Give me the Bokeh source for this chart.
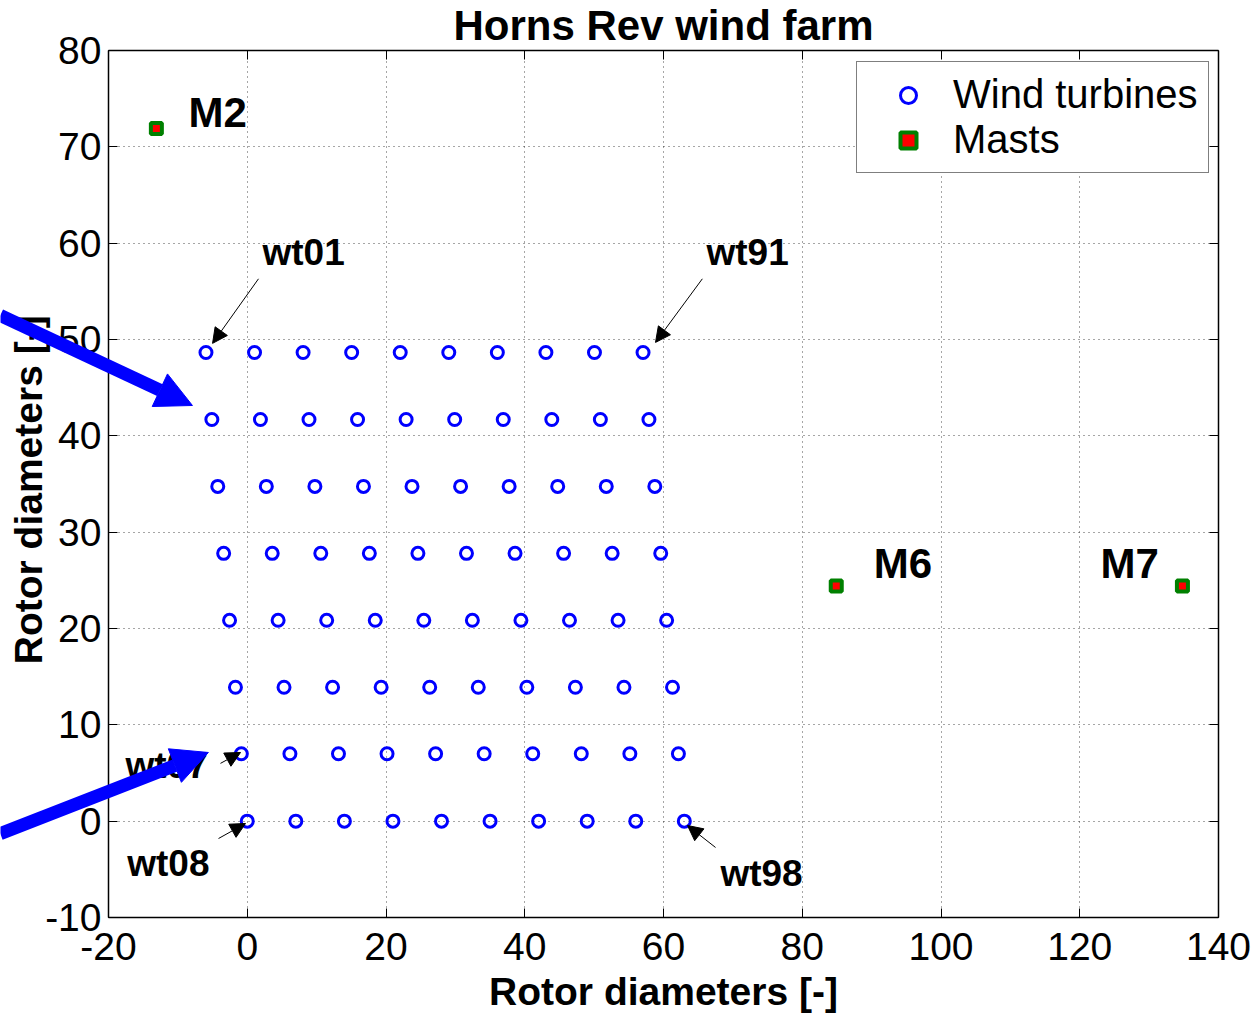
import math
from bokeh.plotting import figure
from bokeh.models import (Range1d, LinearAxis, FixedTicker, Label, Arrow, NormalHead,
                          Legend, LegendItem, ColumnDataSource, Grid)
from bokeh.embed import file_html
from bokeh.resources import INLINE

# ---------------- data ----------------
row_y = [0.0, 7.0, 13.9, 20.85, 27.8, 34.75, 41.7, 48.65]
row_x = [
    [0.0, 7.0, 14.0, 21.0, 28.0, 35.0, 42.0, 49.0, 56.0, 63.0],
    [-0.85, 6.15, 13.15, 20.15, 27.15, 34.15, 41.15, 48.15, 55.15, 62.15],
    [-1.7, 5.3, 12.3, 19.3, 26.3, 33.3, 40.3, 47.3, 54.3, 61.3],
    [-2.55, 4.45, 11.45, 18.45, 25.45, 32.45, 39.45, 46.45, 53.45, 60.45],
    [-3.4, 3.6, 10.6, 17.6, 24.6, 31.6, 38.6, 45.6, 52.6, 59.6],
    [-4.25, 2.75, 9.75, 16.75, 23.75, 30.75, 37.75, 44.75, 51.75, 58.75],
    [-5.1, 1.9, 8.9, 15.9, 22.9, 29.9, 36.9, 43.9, 50.9, 57.9],
    [-5.95, 1.05, 8.05, 15.05, 22.05, 29.05, 36.05, 43.05, 50.05, 57.05],
]
mast_names = ["M2", "M6", "M7"]
mast_x = [-13.1, 84.9, 134.8]
mast_y = [71.9, 24.4, 24.4]

x_ticks = [-20, 0, 20, 40, 60, 80, 100, 120, 140]
y_ticks = [-10, 0, 10, 20, 30, 40, 50, 60, 70, 80]

# turbine annotations: label, text pos, arrow start, arrow end
ann_names = ["wt01", "wt91", "wt07", "wt08", "wt98"]
ann_text_x = [2.2, 66.2, -17.55, -17.3, 68.2]
ann_text_y = [59.0, 59.0, 5.8, -4.4, -5.4]
ann_start_x = [1.62, 65.6, -3.86, -4.14, 67.5]
ann_start_y = [56.3, 56.3, 6.0, -1.8, -2.73]
ann_end_x = [-5.0, 58.85, -0.97, -0.25, 63.46]
ann_end_y = [49.6, 49.7, 7.13, -0.24, -0.45]

mast_text_x = [-8.47, 90.3, 123.0]
mast_text_y = [73.6, 26.7, 26.7]

# big blue highlight arrows (start -> tip)
big_start_x = [-35.6, -35.6]
big_start_y = [52.5, -1.3]
big_end_x = [-7.9, -5.6]
big_end_y = [43.15, 7.13]

title_text = "Horns Rev wind farm"
x_label = "Rotor diameters [-]"
y_label = "Rotor diameters [-]"

tx = [x for row in row_x for x in row]
ty = [y for y, row in zip(row_y, row_x) for _ in row]

FONT = "Liberation Sans"
XMIN, XMAX, YMIN, YMAX = -20, 140, -10, 80
W, H = 1259, 1015
BOX_L, BOX_R, BOX_T, BOX_B = 108, 1218, 50, 917     # axes box in page pixels
kx = (BOX_R - BOX_L) / (XMAX - XMIN)
ky = (BOX_B - BOX_T) / (YMAX - YMIN)
# the frame covers the whole page so that annotations may extend past the axes box
x_lo, x_hi = XMIN - BOX_L / kx, XMAX + (W - BOX_R) / kx
y_lo, y_hi = YMIN - (H - BOX_B) / ky, YMAX + BOX_T / ky

p = figure(frame_width=W, frame_height=H,
           x_range=Range1d(x_lo, x_hi), y_range=Range1d(y_lo, y_hi),
           output_backend="svg", toolbar_location=None,
           min_border=0, min_border_left=0, min_border_right=0,
           min_border_top=0, min_border_bottom=0)
p.background_fill_color = "white"
p.border_fill_color = "white"
p.outline_line_color = None


def style_axis(ax, labels=True):
    ax.major_label_text_font = FONT
    ax.major_label_text_font_size = "39px" if labels else "0px"
    ax.major_label_text_color = "black"
    ax.major_tick_in = 9
    ax.major_tick_out = 0
    ax.minor_tick_line_color = None
    ax.axis_line_color = "black"
    ax.axis_line_width = 1.5
    ax.major_tick_line_color = "black"


xa, ya = p.xaxis[0], p.yaxis[0]
style_axis(xa)
style_axis(ya)
xa.ticker = FixedTicker(ticks=x_ticks)
ya.ticker = FixedTicker(ticks=y_ticks)
xa.fixed_location = YMIN
ya.fixed_location = XMIN
xa.bounds = (XMIN, XMAX)
ya.bounds = (YMIN, YMAX)
xa.major_label_overrides = {t: str(t) for t in x_ticks}
ya.major_label_overrides = {t: str(t) for t in y_ticks}
xa.major_label_standoff = 15
ya.major_label_standoff = 7

top = LinearAxis(ticker=FixedTicker(ticks=x_ticks), fixed_location=YMAX, bounds=(XMIN, XMAX))
right = LinearAxis(ticker=FixedTicker(ticks=y_ticks), fixed_location=XMAX, bounds=(YMIN, YMAX))
style_axis(top, labels=False)
style_axis(right, labels=False)
p.add_layout(top, "above")
p.add_layout(right, "right")

# dotted grid limited to the axes box
has_cross = "cross_bounds" in Grid.properties()
if has_cross:
    p.xgrid.ticker = FixedTicker(ticks=x_ticks)
    p.ygrid.ticker = FixedTicker(ticks=y_ticks)
    p.xgrid.bounds = (XMIN, XMAX)
    p.ygrid.bounds = (YMIN, YMAX)
    p.xgrid.cross_bounds = (YMIN, YMAX)
    p.ygrid.cross_bounds = (XMIN, XMAX)
    for g in [p.xgrid[0], p.ygrid[0]]:
        g.grid_line_color = "black"
        g.grid_line_alpha = 0.7
        g.grid_line_dash = "1 4"
        g.grid_line_width = 1
else:
    p.xgrid.visible = False
    p.ygrid.visible = False
    p.segment(x0=x_ticks, y0=[YMIN] * len(x_ticks), x1=x_ticks, y1=[YMAX] * len(x_ticks),
              line_color="black", line_alpha=0.7, line_dash="1 4", line_width=1)
    p.segment(x0=[XMIN] * len(y_ticks), y0=y_ticks, x1=[XMAX] * len(y_ticks), y1=y_ticks,
              line_color="black", line_alpha=0.7, line_dash="1 4", line_width=1)

# title and axis titles
p.add_layout(Label(x=(XMIN + XMAX) / 2, y=YMAX + (BOX_T - 25) / ky, text=title_text,
                   text_font=FONT, text_font_size="42px", text_font_style="bold",
                   text_align="center", text_baseline="middle", text_color="black"))
p.add_layout(Label(x=(XMIN + XMAX) / 2, y=YMIN - (991 - BOX_B) / ky, text=x_label,
                   text_font=FONT, text_font_size="39px", text_font_style="bold",
                   text_align="center", text_baseline="middle", text_color="black"))
p.add_layout(Label(x=XMIN - (BOX_L - 28) / kx, y=(YMIN + YMAX) / 2 - 0.6, text=y_label,
                   angle=math.pi / 2,
                   text_font=FONT, text_font_size="39px", text_font_style="bold",
                   text_align="center", text_baseline="middle", text_color="black"))

tsrc = ColumnDataSource(dict(x=tx, y=ty))
msrc = ColumnDataSource(dict(x=mast_x, y=mast_y))
r_wt = p.scatter("x", "y", source=tsrc, marker="circle", size=12,
                 fill_color=None, line_color="blue", line_width=3)
r_m = p.scatter("x", "y", source=msrc, marker="square", size=11,
                fill_color="red", line_color="green", line_width=4)

# annotations
for name, x, y in zip(ann_names, ann_text_x, ann_text_y):
    p.add_layout(Label(x=x, y=y, text=name, text_font=FONT, text_font_size="37px",
                       text_font_style="bold", text_baseline="middle", text_align="left",
                       text_color="black"))
for name, x, y in zip(mast_names, mast_text_x, mast_text_y):
    p.add_layout(Label(x=x, y=y, text=name, text_font=FONT, text_font_size="42px",
                       text_font_style="bold", text_baseline="middle", text_align="left",
                       text_color="black"))
for xs, ys, xe, ye in zip(ann_start_x, ann_start_y, ann_end_x, ann_end_y):
    p.add_layout(Arrow(x_start=xs, y_start=ys, x_end=xe, y_end=ye, line_width=1,
                       line_color="black",
                       end=NormalHead(size=15, fill_color="black", line_color="black",
                                      line_width=1)))
for xs, ys, xe, ye in zip(big_start_x, big_start_y, big_end_x, big_end_y):
    p.add_layout(Arrow(x_start=xs, y_start=ys, x_end=xe, y_end=ye, line_width=13,
                       line_color="blue",
                       end=NormalHead(size=36, fill_color="blue", line_color="blue",
                                      line_width=1)))

legend = Legend(items=[LegendItem(label="Wind turbines", renderers=[r_wt]),
                       LegendItem(label="Masts", renderers=[r_m])],
                location=(856, H - 173))
legend.label_text_font = FONT
legend.label_text_font_size = "40px"
legend.label_text_color = "black"
legend.border_line_color = "black"
legend.border_line_width = 1.5
legend.background_fill_color = "white"
legend.background_fill_alpha = 1
legend.glyph_width = 82
legend.glyph_height = 40
legend.label_height = 40
legend.label_standoff = 4
legend.spacing = 0
legend.padding = 10
legend.margin = 0
p.add_layout(legend)

open("out.html", "w").write(file_html(p, INLINE))
